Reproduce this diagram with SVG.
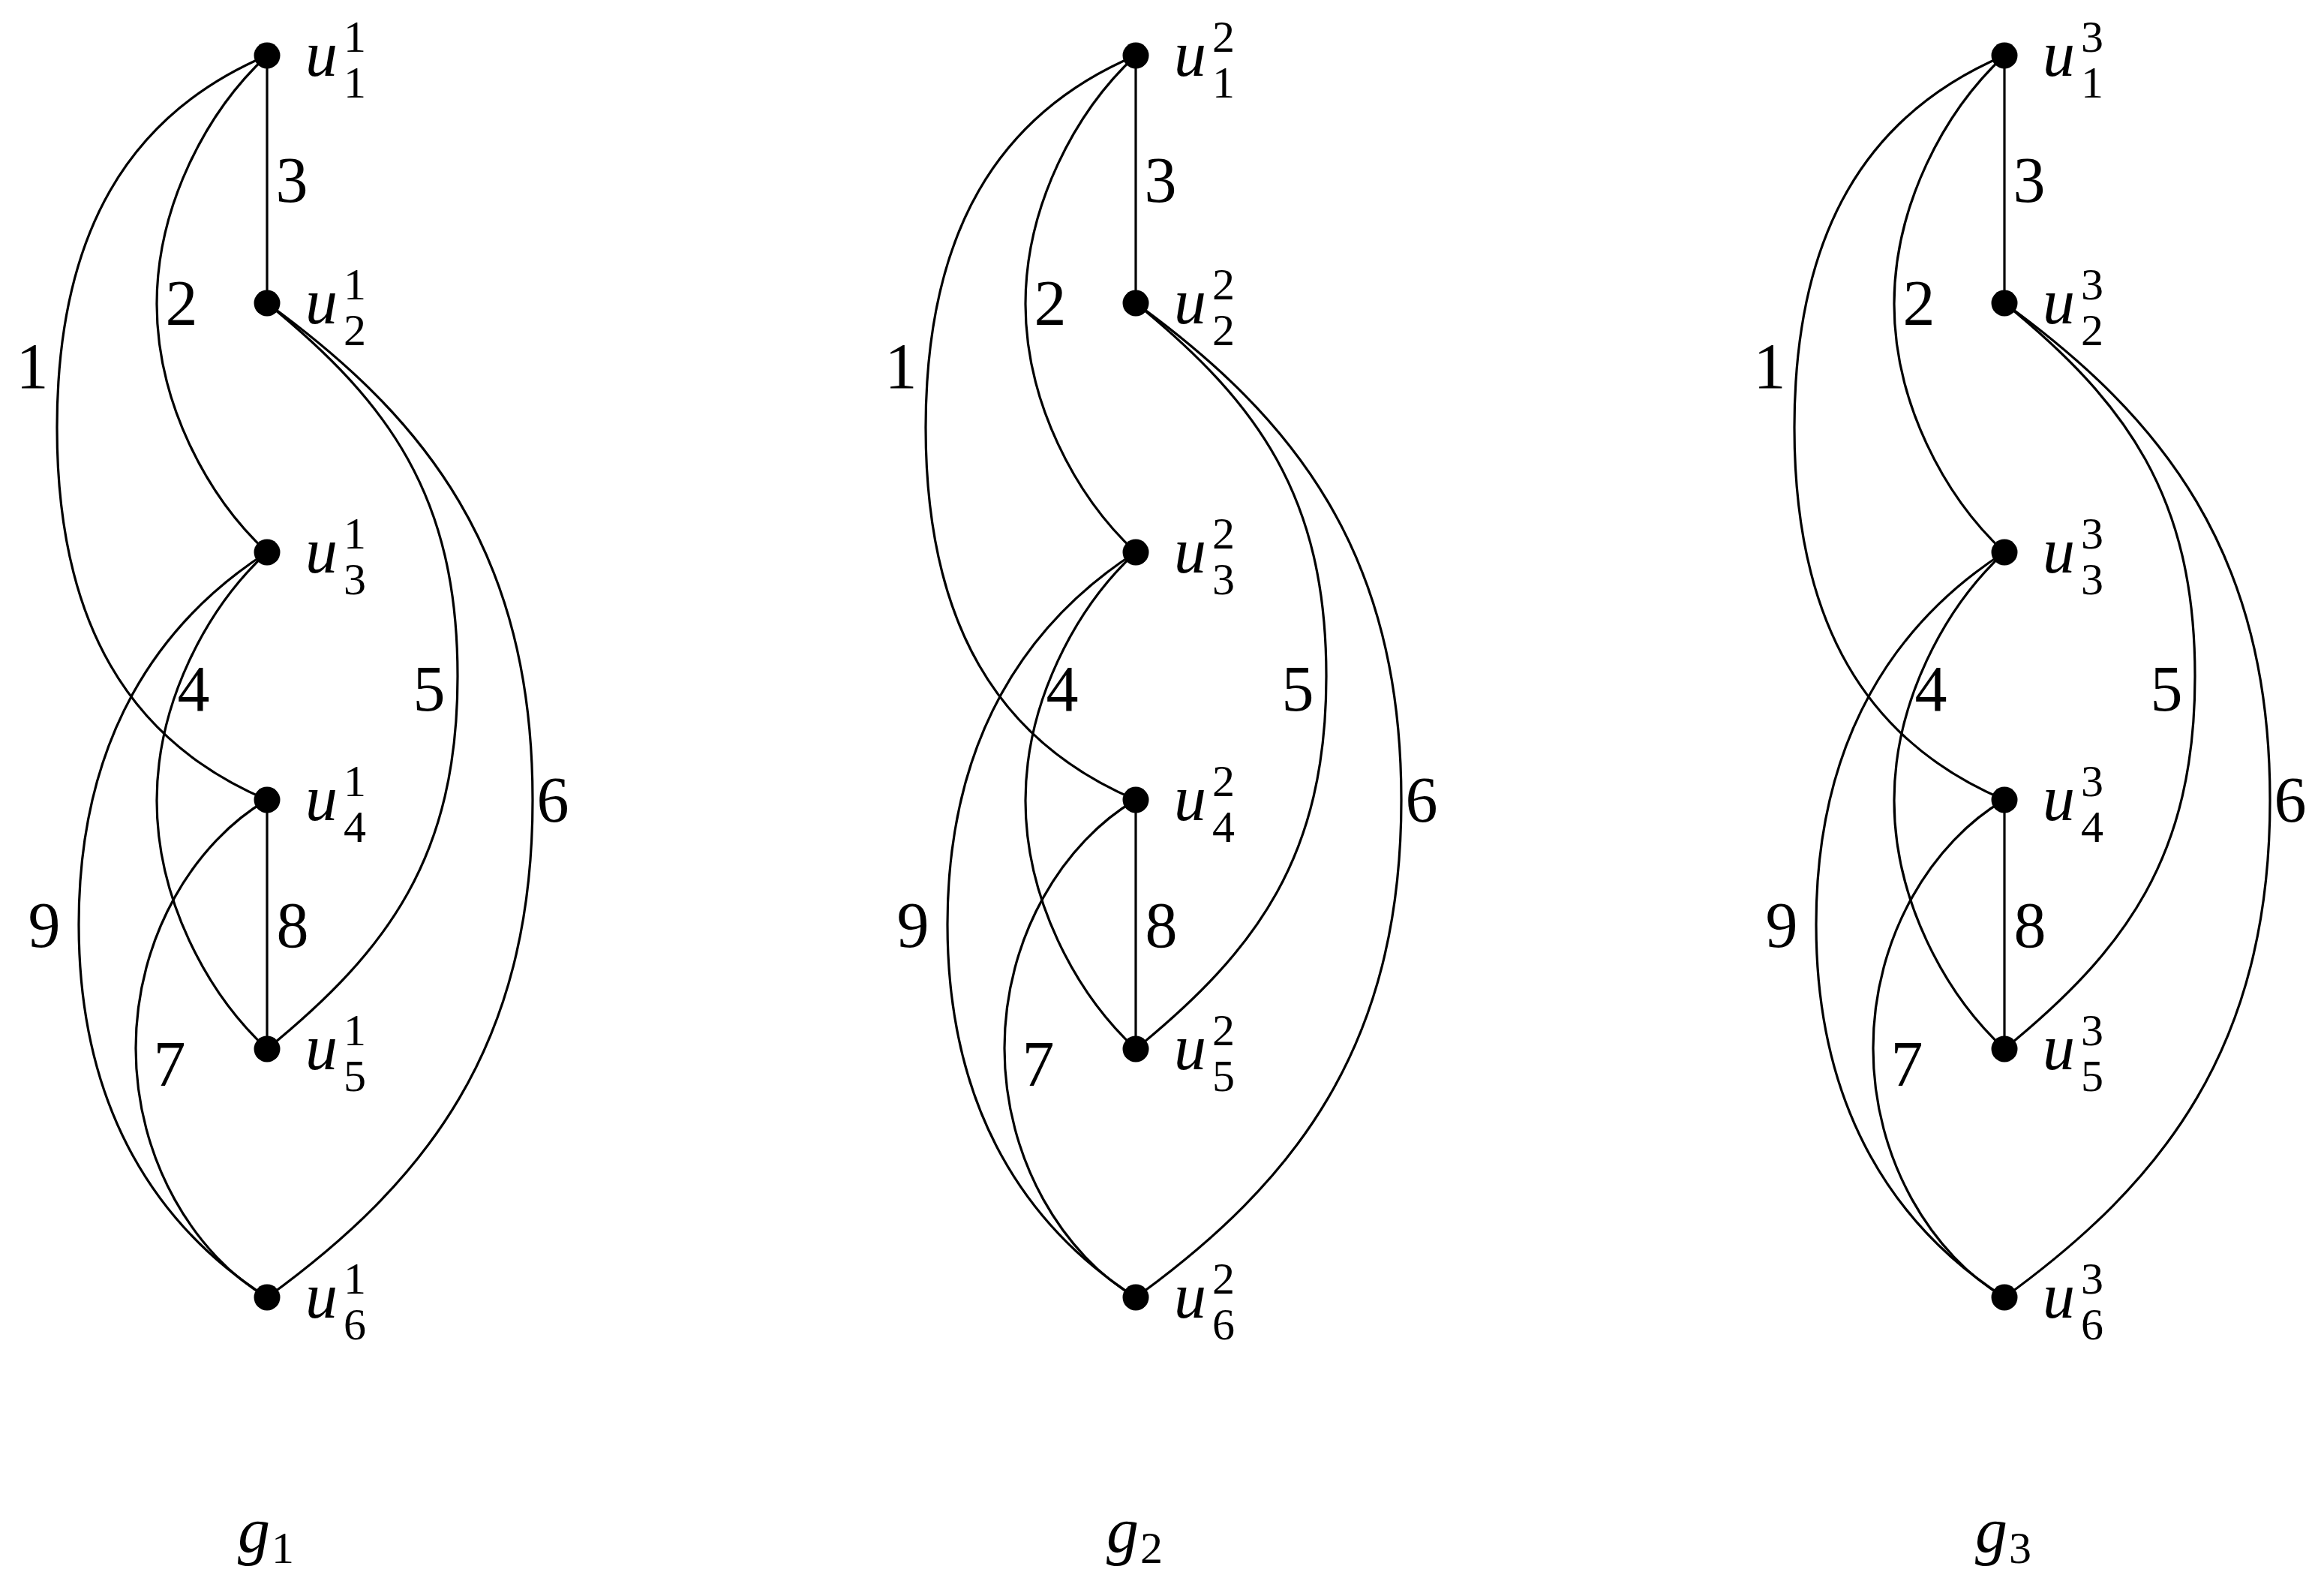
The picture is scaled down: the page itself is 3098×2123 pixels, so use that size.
<svg xmlns="http://www.w3.org/2000/svg" width="3098" height="2123" viewBox="0 0 3098 2123">
<style>
.e{fill:none;stroke:#000;stroke-width:3.2}
.n{fill:#000}
.t{font-family:"Liberation Serif","Times New Roman",serif;font-size:86px;fill:#000}
.i{font-style:italic}
.s{font-family:"Liberation Serif","Times New Roman",serif;font-size:60px;fill:#000}
.m{text-anchor:middle}
</style>
<rect width="3098" height="2123" fill="#fff"/>
<defs>
<g id="edgeset">
<path class="e" d="M356,74 C172,152 76,310 76,570 C76,830 172,988 356,1066"/>
<path class="e" d="M356,74 C275,149 209,275 209,405 C209,535 275,661 356,736"/>
<path class="e" d="M356,74 L356,404"/>
<path class="e" d="M356,736 C275,811 209,937 209,1067 C209,1197 275,1323 356,1398"/>
<path class="e" d="M356,404 C518,536 610,661 610,901 C610,1141 518,1266 356,1398"/>
<path class="e" d="M356,404 C567,557 710,736 710,1066 C710,1396 567,1576 356,1729"/>
<path class="e" d="M356,1066 C261,1121 181,1247 181,1397 C181,1547 261,1674 356,1729"/>
<path class="e" d="M356,1066 L356,1398"/>
<path class="e" d="M356,736 C213,828 105,982 105,1232 C105,1482 213,1637 356,1729"/>
<text class="t m" x="43" y="517">1</text>
<text class="t m" x="242" y="433">2</text>
<text class="t m" x="389" y="269">3</text>
<text class="t m" x="258" y="947">4</text>
<text class="t m" x="572" y="947">5</text>
<text class="t m" x="737" y="1095">6</text>
<text class="t m" x="226" y="1447">7</text>
<text class="t m" x="390" y="1262">8</text>
<text class="t m" x="59" y="1262">9</text>
</g>
</defs>
<g id="connectors">
<use id="edges-g1" href="#edgeset"/>
<use id="edges-g2" href="#edgeset" transform="translate(1158,0)"/>
<use id="edges-g3" href="#edgeset" transform="translate(2316,0)"/>
</g>
<g id="graph-g1">
<g id="u1-1"><circle class="n" cx="356" cy="74" r="17.5"/><text class="t i" x="407" y="101">u</text><text class="s" x="458" y="69">1</text><text class="s" x="458" y="130">1</text></g>
<g id="u1-2"><circle class="n" cx="356" cy="404" r="17.5"/><text class="t i" x="407" y="431">u</text><text class="s" x="458" y="399">1</text><text class="s" x="458" y="460">2</text></g>
<g id="u1-3"><circle class="n" cx="356" cy="736" r="17.5"/><text class="t i" x="407" y="763">u</text><text class="s" x="458" y="731">1</text><text class="s" x="458" y="792">3</text></g>
<g id="u1-4"><circle class="n" cx="356" cy="1066" r="17.5"/><text class="t i" x="407" y="1093">u</text><text class="s" x="458" y="1061">1</text><text class="s" x="458" y="1122">4</text></g>
<g id="u1-5"><circle class="n" cx="356" cy="1398" r="17.5"/><text class="t i" x="407" y="1425">u</text><text class="s" x="458" y="1393">1</text><text class="s" x="458" y="1454">5</text></g>
<g id="u1-6"><circle class="n" cx="356" cy="1729" r="17.5"/><text class="t i" x="407" y="1756">u</text><text class="s" x="458" y="1724">1</text><text class="s" x="458" y="1785">6</text></g>
<g id="title-g1"><text class="t i" x="317" y="2068">g</text><text class="s" x="362" y="2083">1</text></g>
</g>
<g id="graph-g2" transform="translate(1158,0)">
<g id="u2-1"><circle class="n" cx="356" cy="74" r="17.5"/><text class="t i" x="407" y="101">u</text><text class="s" x="458" y="69">2</text><text class="s" x="458" y="130">1</text></g>
<g id="u2-2"><circle class="n" cx="356" cy="404" r="17.5"/><text class="t i" x="407" y="431">u</text><text class="s" x="458" y="399">2</text><text class="s" x="458" y="460">2</text></g>
<g id="u2-3"><circle class="n" cx="356" cy="736" r="17.5"/><text class="t i" x="407" y="763">u</text><text class="s" x="458" y="731">2</text><text class="s" x="458" y="792">3</text></g>
<g id="u2-4"><circle class="n" cx="356" cy="1066" r="17.5"/><text class="t i" x="407" y="1093">u</text><text class="s" x="458" y="1061">2</text><text class="s" x="458" y="1122">4</text></g>
<g id="u2-5"><circle class="n" cx="356" cy="1398" r="17.5"/><text class="t i" x="407" y="1425">u</text><text class="s" x="458" y="1393">2</text><text class="s" x="458" y="1454">5</text></g>
<g id="u2-6"><circle class="n" cx="356" cy="1729" r="17.5"/><text class="t i" x="407" y="1756">u</text><text class="s" x="458" y="1724">2</text><text class="s" x="458" y="1785">6</text></g>
<g id="title-g2"><text class="t i" x="317" y="2068">g</text><text class="s" x="362" y="2083">2</text></g>
</g>
<g id="graph-g3" transform="translate(2316,0)">
<g id="u3-1"><circle class="n" cx="356" cy="74" r="17.5"/><text class="t i" x="407" y="101">u</text><text class="s" x="458" y="69">3</text><text class="s" x="458" y="130">1</text></g>
<g id="u3-2"><circle class="n" cx="356" cy="404" r="17.5"/><text class="t i" x="407" y="431">u</text><text class="s" x="458" y="399">3</text><text class="s" x="458" y="460">2</text></g>
<g id="u3-3"><circle class="n" cx="356" cy="736" r="17.5"/><text class="t i" x="407" y="763">u</text><text class="s" x="458" y="731">3</text><text class="s" x="458" y="792">3</text></g>
<g id="u3-4"><circle class="n" cx="356" cy="1066" r="17.5"/><text class="t i" x="407" y="1093">u</text><text class="s" x="458" y="1061">3</text><text class="s" x="458" y="1122">4</text></g>
<g id="u3-5"><circle class="n" cx="356" cy="1398" r="17.5"/><text class="t i" x="407" y="1425">u</text><text class="s" x="458" y="1393">3</text><text class="s" x="458" y="1454">5</text></g>
<g id="u3-6"><circle class="n" cx="356" cy="1729" r="17.5"/><text class="t i" x="407" y="1756">u</text><text class="s" x="458" y="1724">3</text><text class="s" x="458" y="1785">6</text></g>
<g id="title-g3"><text class="t i" x="317" y="2068">g</text><text class="s" x="362" y="2083">3</text></g>
</g>
</svg>
